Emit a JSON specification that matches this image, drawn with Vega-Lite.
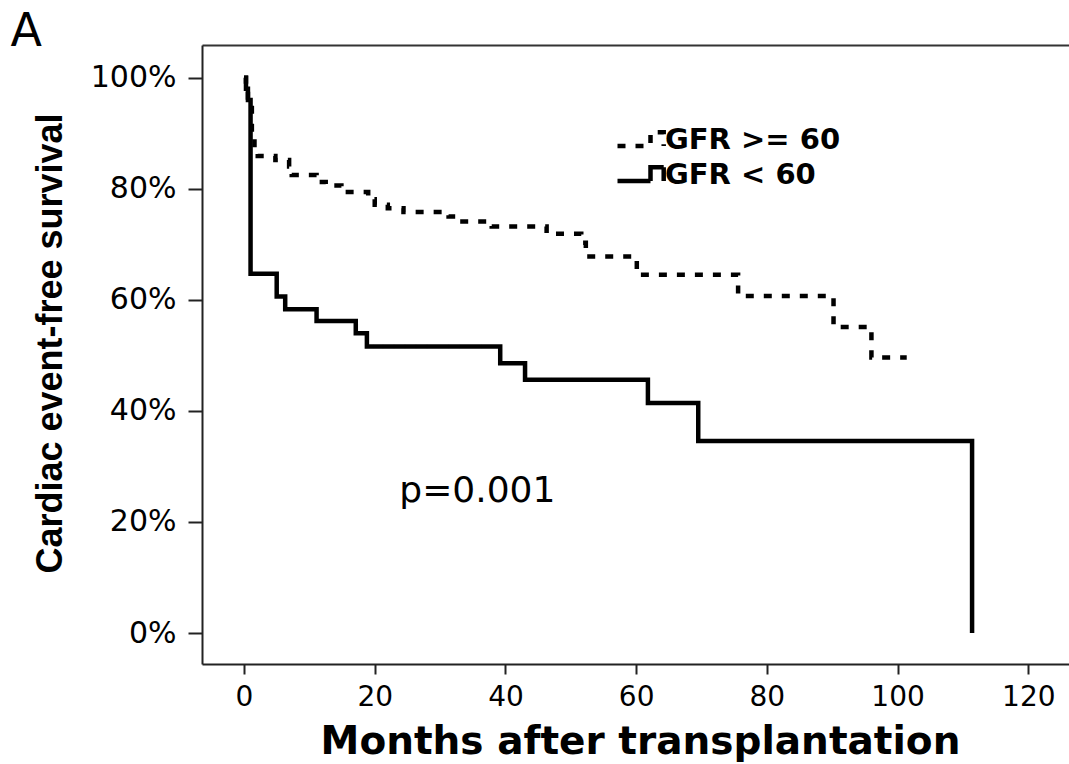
{
  "$schema": "https://vega.github.io/schema/vega-lite/v6.json",
  "autosize": "none",
  "width": 867,
  "height": 619,
  "padding": {"left": 202, "top": 45, "right": 0, "bottom": 100},
  "background": "white",
  "config": {
    "view": {"stroke": null},
    "font": "DejaVu Sans",
    "legend": {
      "orient": "none", "legendX": 425, "legendY": 80, "padding": 0,
      "symbolType": "M-2,0.55H0.75V-0.6H1.85V0.55", "symbolSize": 576,
      "symbolStrokeWidth": 4.5, "symbolStrokeColor": "black", "symbolFillColor": "transparent",
      "labelFont": "DejaVu Sans", "labelFontWeight": "bold", "labelFontSize": 29, "labelColor": "black",
      "labelOffset": 9, "labelLimit": 400, "rowPadding": 2
    }
  },
  "layer": [
    {
      "data": {"values": [
        {"group": "GFR >= 60", "month": 0, "surv": 100},
        {"group": "GFR >= 60", "month": 0.3, "surv": 98},
        {"group": "GFR >= 60", "month": 0.6, "surv": 96},
        {"group": "GFR >= 60", "month": 1.2, "surv": 89.2},
        {"group": "GFR >= 60", "month": 1.6, "surv": 87.3},
        {"group": "GFR >= 60", "month": 2.1, "surv": 85.9},
        {"group": "GFR >= 60", "month": 4.8, "surv": 85.2},
        {"group": "GFR >= 60", "month": 6.9, "surv": 84.0},
        {"group": "GFR >= 60", "month": 7.3, "surv": 82.5},
        {"group": "GFR >= 60", "month": 11.1, "surv": 81.2},
        {"group": "GFR >= 60", "month": 12.5, "surv": 80.6},
        {"group": "GFR >= 60", "month": 14.9, "surv": 79.4},
        {"group": "GFR >= 60", "month": 19.0, "surv": 78.1},
        {"group": "GFR >= 60", "month": 20.0, "surv": 77.1},
        {"group": "GFR >= 60", "month": 22.0, "surv": 76.5},
        {"group": "GFR >= 60", "month": 24.4, "surv": 75.8},
        {"group": "GFR >= 60", "month": 31.3, "surv": 75.0},
        {"group": "GFR >= 60", "month": 33.0, "surv": 74.1},
        {"group": "GFR >= 60", "month": 37.9, "surv": 73.2},
        {"group": "GFR >= 60", "month": 46.3, "surv": 71.9},
        {"group": "GFR >= 60", "month": 51.6, "surv": 70.3},
        {"group": "GFR >= 60", "month": 52.3, "surv": 67.8},
        {"group": "GFR >= 60", "month": 60.1, "surv": 64.5},
        {"group": "GFR >= 60", "month": 75.6, "surv": 60.7},
        {"group": "GFR >= 60", "month": 90.2, "surv": 55.1},
        {"group": "GFR >= 60", "month": 96.0, "surv": 49.6},
        {"group": "GFR >= 60", "month": 101.4, "surv": 49.6},
        {"group": "GFR < 60", "month": 0, "surv": 100},
        {"group": "GFR < 60", "month": 0.3, "surv": 98},
        {"group": "GFR < 60", "month": 0.6, "surv": 96},
        {"group": "GFR < 60", "month": 1.0, "surv": 64.7},
        {"group": "GFR < 60", "month": 5.0, "surv": 60.6},
        {"group": "GFR < 60", "month": 6.3, "surv": 58.3},
        {"group": "GFR < 60", "month": 11.1, "surv": 56.2},
        {"group": "GFR < 60", "month": 17.1, "surv": 54.0},
        {"group": "GFR < 60", "month": 18.8, "surv": 51.6},
        {"group": "GFR < 60", "month": 39.2, "surv": 48.6},
        {"group": "GFR < 60", "month": 43.0, "surv": 45.6},
        {"group": "GFR < 60", "month": 61.8, "surv": 41.4},
        {"group": "GFR < 60", "month": 69.5, "surv": 34.6},
        {"group": "GFR < 60", "month": 111.4, "surv": 0}
      ]},
      "mark": {"type": "line", "interpolate": "step-after", "color": "black", "strokeWidth": 4.5},
      "encoding": {
        "x": {"field": "month", "type": "quantitative",
          "scale": {"domain": [-6.43, 126.23], "nice": false, "zero": false},
          "axis": {"orient": "bottom", "values": [0, 20, 40, 60, 80, 100, 120], "grid": false,
            "domainColor": "#222", "domainWidth": 2, "tickColor": "#222", "tickWidth": 2, "tickSize": 10,
            "labelFont": "DejaVu Sans", "labelFontSize": 28, "labelColor": "black", "labelPadding": 9,
            "title": "Months after transplantation", "titleFont": "DejaVu Sans", "titleFontWeight": "bold",
            "titleFontSize": 39, "titleColor": "black", "titleX": 438, "titleY": 89, "titleBaseline": "alphabetic", "titleAlign": "center"}},
        "y": {"field": "surv", "type": "quantitative",
          "scale": {"domain": [-5.58, 105.89], "nice": false, "zero": false},
          "axis": {"orient": "left", "values": [0, 20, 40, 60, 80, 100], "labelExpr": "datum.value + '%'", "grid": false,
            "domainColor": "#222", "domainWidth": 2, "tickColor": "#222", "tickWidth": 2, "tickSize": 14,
            "labelFont": "DejaVu Sans", "labelFontSize": 30, "labelColor": "black", "labelPadding": 12,
            "title": "Cardiac event-free survival", "titleFont": "Liberation Sans", "titleFontWeight": "bold",
            "titleFontSize": 36, "titleColor": "black", "titleX": -141, "titleY": 298, "titleBaseline": "alphabetic", "titleAlign": "center", "titleAngle": 270}},
        "strokeDash": {"field": "group", "type": "nominal",
          "scale": {"domain": ["GFR >= 60", "GFR < 60"], "range": [[8, 10], [1, 0]]},
          "legend": {"title": null}}
      }
    },
    {
      "data": {"values": [{"label": "p=0.001"}]},
      "mark": {"type": "text", "font": "DejaVu Sans", "fontSize": 36, "align": "center", "baseline": "alphabetic", "color": "black"},
      "encoding": {
        "text": {"field": "label"},
        "x": {"datum": 35.7, "type": "quantitative",
          "axis": {"orient": "top", "domain": true, "domainColor": "#333", "domainWidth": 2, "ticks": false, "labels": false, "grid": false,
            "title": "A", "titleFont": "DejaVu Sans", "titleFontWeight": "normal", "titleFontSize": 46, "titleColor": "black",
            "titleX": -192, "titleY": 0, "titleAlign": "left", "titleBaseline": "alphabetic"}},
        "y": {"datum": 23.6, "type": "quantitative",
          "axis": {"orient": "left", "values": [0, 20, 40, 60, 80, 100], "labelExpr": "datum.value + '%'", "grid": false,
            "domainColor": "#222", "domainWidth": 2, "tickColor": "#222", "tickWidth": 2, "tickSize": 14,
            "labelFont": "DejaVu Sans", "labelFontSize": 30, "labelColor": "black", "labelPadding": 12,
            "title": "Cardiac event-free survival", "titleFont": "Liberation Sans", "titleFontWeight": "bold",
            "titleFontSize": 36, "titleColor": "black", "titleX": -141, "titleY": 298, "titleBaseline": "alphabetic", "titleAlign": "center", "titleAngle": 270}}
      }
    }
  ]
}
